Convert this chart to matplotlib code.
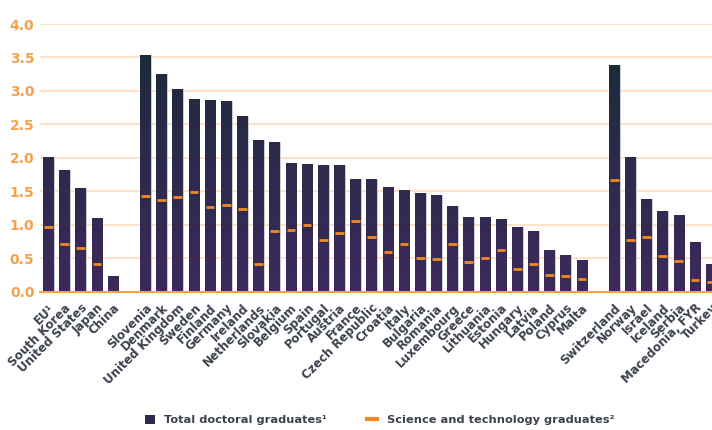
import numpy as np
import matplotlib
matplotlib.use('Agg')
import matplotlib.pyplot as plt
from matplotlib.colors import LinearSegmentedColormap
from matplotlib.lines import Line2D
from matplotlib.patches import Patch

# 数据：每千人口中的博士毕业生
countries = ['EU¹', 'South Korea', 'United States', 'Japan', 'China', '',
             'Slovenia', 'Denmark', 'United Kingdom', 'Sweden', 'Finland', 'Germany',
             'Ireland', 'Netherlands', 'Slovakia', 'Belgium', 'Spain', 'Portugal',
             'Austria', 'France', 'Czech Republic', 'Croatia', 'Italy', 'Bulgaria',
             'Romania', 'Luxembourg', 'Greece', 'Lithuania', 'Estonia', 'Hungary',
             'Latvia', 'Poland', 'Cyprus', 'Malta', '',
             'Switzerland', 'Norway', 'Israel', 'Iceland', 'Serbia', 'Macedonia, FYR', 'Turkey']
total = [2.01, 1.82, 1.55, 1.10, 0.23, np.nan,
         3.54, 3.26, 3.03, 2.88, 2.87, 2.85,
         2.63, 2.26, 2.24, 1.92, 1.91, 1.90,
         1.90, 1.69, 1.68, 1.57, 1.52, 1.48,
         1.45, 1.28, 1.12, 1.12, 1.09, 0.96,
         0.91, 0.63, 0.55, 0.47, np.nan,
         3.39, 2.01, 1.38, 1.21, 1.15, 0.75, 0.41]
science = [0.96, 0.71, 0.65, 0.41, np.nan, np.nan,
           1.43, 1.37, 1.41, 1.49, 1.27, 1.30,
           1.23, 0.41, 0.90, 0.92, 0.99, 0.77,
           0.87, 1.06, 0.82, 0.59, 0.71, 0.51,
           0.49, 0.71, 0.45, 0.51, 0.63, 0.34,
           0.42, 0.25, 0.24, 0.19, np.nan,
           1.67, 0.77, 0.81, 0.53, 0.46, 0.18, 0.15]

orange = '#f7a04b'
grid_c = '#fddcbf'
label_c = '#3c414e'

fig = plt.figure(figsize=(7.12, 4.30), dpi=100)
ax = fig.add_axes([40 / 712, 138.3 / 430, 1 - 40 / 712, 267.7 / 430])

x = np.arange(len(countries))
tot = np.array(total, dtype=float)
sci = np.array(science, dtype=float)
ok = ~np.isnan(tot)

bars = ax.bar(x[ok], tot[ok], width=0.66, color='#2e2a4a', edgecolor='#d8d8de',
              linewidth=0.6, zorder=2)

# 柱子的渐变色
cmap = LinearSegmentedColormap.from_list('bar', ['#3d295c', '#2c2b4a', '#172a36'])
grad = np.linspace(0, 1, 256).reshape(-1, 1)
for b in bars:
    im = ax.imshow(grad, extent=[b.get_x(), b.get_x() + b.get_width(), 0, 4],
                   origin='lower', aspect='auto', cmap=cmap, zorder=2.5)
    im.set_clip_path(b)

# 科技类毕业生横线
ok2 = ~np.isnan(sci)
ax.hlines(sci[ok2], x[ok2] - 0.27, x[ok2] + 0.27, colors='#f08a24', linewidth=2, zorder=3)

ax.set_xlim(-0.52, 41.05)
ax.set_ylim(0, 4.0)
ax.set_yticks(np.arange(0, 4.01, 0.5))
ax.set_yticklabels(['%.1f' % v for v in np.arange(0, 4.01, 0.5)],
                   color=orange, fontsize=10, fontweight='bold')
ax.yaxis.grid(True, color=grid_c, linewidth=1.2, zorder=0)
ax.set_axisbelow(True)
ax.axhline(0, color=orange, linewidth=1.5, zorder=4, clip_on=False)
ax.tick_params(axis='y', length=0, pad=4)
for s in ax.spines.values():
    s.set_visible(False)

ax.set_xticks(x)
ax.set_xticklabels(countries, rotation=45, ha='right', va='top', rotation_mode='anchor',
                   fontsize=8.6, fontweight='bold', color=label_c)
ax.tick_params(axis='x', length=0, pad=7)

handles = [Patch(facecolor='#2e2a4a', edgecolor='none'),
           Line2D([0], [0], color='#f08a24', linewidth=3)]
fig.legend(handles, ['Total doctoral graduates¹', 'Science and technology graduates²'],
           loc='center', bbox_to_anchor=(0.533, 10 / 430), ncol=2, frameon=False,
           prop={'size': 8.2, 'weight': 'bold'}, labelcolor=label_c,
           handlelength=0.9, handleheight=0.9, columnspacing=3.5, handletextpad=0.8)

plt.savefig('out.png', dpi=100)
